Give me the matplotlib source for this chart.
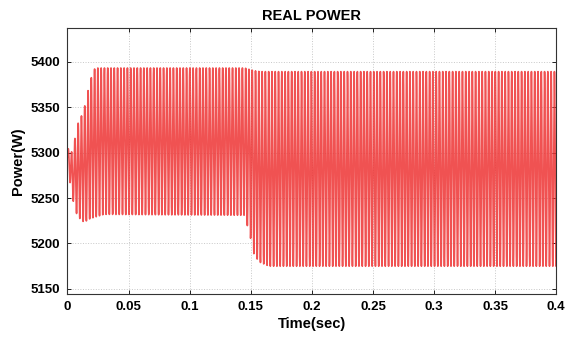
import numpy as np
import matplotlib
matplotlib.use("Agg")
import matplotlib.pyplot as plt

plt.rcParams['font.family'] = ['Liberation Sans', 'DejaVu Sans']

# Envelope of the oscillating real power (W) at key instants (s)
env_time = [0.0, 0.004, 0.008, 0.013, 0.016, 0.018, 0.0225, 0.03, 0.145, 0.150, 0.153, 0.158, 0.165, 0.4]
env_upper = [5305, 5300, 5330, 5345, 5362, 5377, 5393, 5393, 5393, 5391, 5390, 5389, 5389, 5389]
env_lower = [5285, 5250, 5230, 5224, 5225, 5227, 5229, 5232, 5231, 5205, 5186, 5179, 5175, 5175]
ripple_freq = 372.0  # Hz

x_ticks = [0, 0.05, 0.1, 0.15, 0.2, 0.25, 0.3, 0.35, 0.4]
x_ticklabels = ['0', '0.05', '0.1', '0.15', '0.2', '0.25', '0.3', '0.35', '0.4']
y_ticks = [5150, 5200, 5250, 5300, 5350, 5400]

t = np.linspace(0, 0.4, 80001)
upper = np.interp(t, env_time, env_upper)
lower = np.interp(t, env_time, env_lower)
mid = (upper + lower) / 2
amp = (upper - lower) / 2
p = mid + amp * np.sin(2 * np.pi * ripple_freq * t)

fig = plt.figure(figsize=(5.67, 3.41), dpi=100)
ax = fig.add_axes([0.119, 0.138, 0.862, 0.780])
ax.plot(t, p, color='#ee3434', lw=1.2, alpha=0.85)

ax.set_xlim(0, 0.4)
ax.set_ylim(5144.5, 5437)
ax.set_xticks(x_ticks)
ax.set_xticklabels(x_ticklabels)
ax.set_yticks(y_ticks)
ax.grid(True, linestyle=':', color='#c8c8c8', lw=0.7)
ax.set_axisbelow(True)
ax.tick_params(direction='in', top=True, right=True, length=3, width=0.6,
               labelsize=9.5, pad=5)
for lab in ax.get_xticklabels() + ax.get_yticklabels():
    lab.set_fontweight('bold')
for s in ax.spines.values():
    s.set_linewidth(0.8)
    s.set_color('#333333')

ax.set_title('REAL POWER', fontsize=10.5, fontweight='bold', pad=6)
ax.set_xlabel('Time(sec)', fontsize=10.5, fontweight='bold', labelpad=3)
ax.set_ylabel('Power(W)', fontsize=10.5, fontweight='bold', labelpad=4)

fig.savefig('out.png', dpi=100)
